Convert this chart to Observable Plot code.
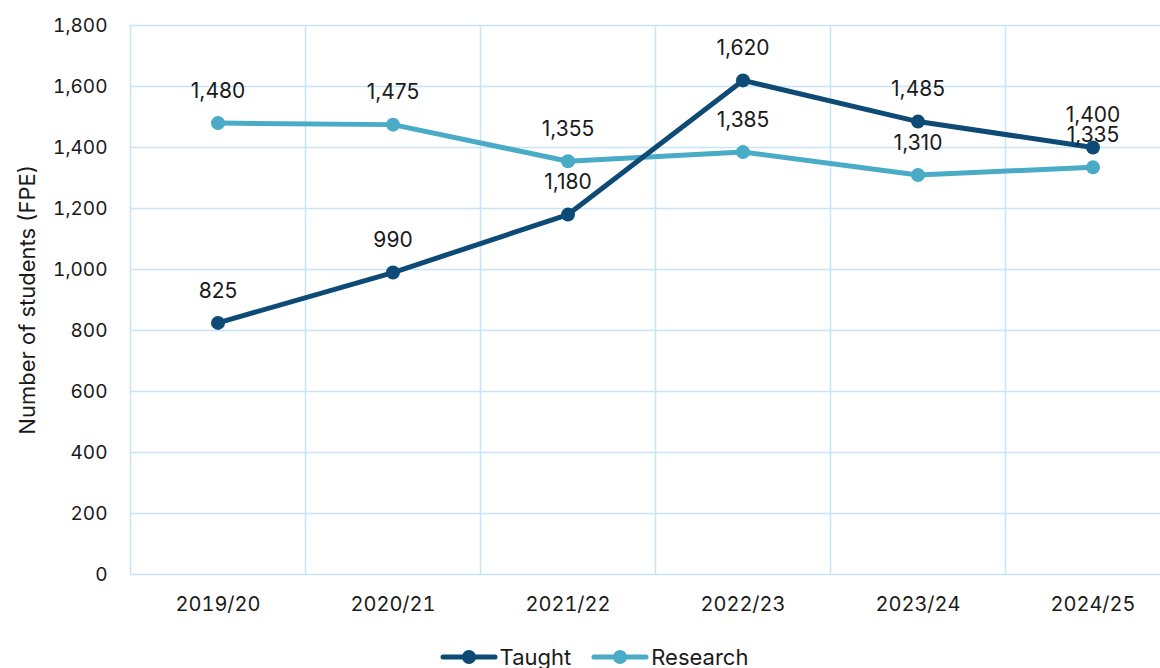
<!DOCTYPE html>
<html>
<head>
<meta charset="utf-8">
<script src="https://cdn.jsdelivr.net/npm/d3@7"></script>
<script src="https://cdn.jsdelivr.net/npm/@observablehq/plot@0.6"></script>
<style>
  html, body { margin: 0; padding: 0; background: #fff; overflow: hidden; }
  body { width: 1160px; height: 668px; font-family: Inter, "Liberation Sans", Arial, sans-serif; }
  #legend { display: flex; justify-content: center; align-items: center; height: 30px; margin-top: 22px; font-size: 22px; color: #1a1a1a; padding-left: 28px; }
  .item { display: flex; align-items: center; margin: 0 10px; }
  .item svg { margin-right: 2px; }
</style>
</head>
<body>
<div id="chart"></div>
<div id="legend"></div>
<script>
const years = ["2019/20", "2020/21", "2021/22", "2022/23", "2023/24", "2024/25"];
const taught = [825, 990, 1180, 1620, 1485, 1400];
const research = [1480, 1475, 1355, 1385, 1310, 1335];
const seriesNames = ["Taught", "Research"];
const seriesColors = ["#0d4a75", "#4aabc7"];
const yTicks = [0, 200, 400, 600, 800, 1000, 1200, 1400, 1600, 1800];
const gridColor = "#c8e4f8";
const fmt = d3.format(",");

const researchData = years.map((y, i) => ({ pos: i + 0.5, year: y, series: "Research", value: research[i] }));
const taughtData = years.map((y, i) => ({ pos: i + 0.5, year: y, series: "Taught", value: taught[i] }));
const allData = [...researchData, ...taughtData];

const chart = Plot.plot({
  width: 1160,
  height: 620,
  marginLeft: 130,
  marginRight: 0,
  marginTop: 25,
  marginBottom: 46,
  style: { fontFamily: "Inter, 'Liberation Sans', Arial, sans-serif", fontSize: "19px", color: "#1a1a1a", background: "#fff" },
  x: { type: "linear", domain: [0, years.length], range: [130, 130 + 175 * years.length], axis: null },
  y: { domain: [0, 1800], axis: null },
  color: { domain: seriesNames, range: seriesColors },
  marks: [
    Plot.gridY(yTicks, { stroke: gridColor, strokeOpacity: 1, strokeWidth: 1.5 }),
    Plot.gridX(d3.range(0, years.length + 1), { stroke: gridColor, strokeOpacity: 1, strokeWidth: 1.5 }),
    Plot.axisY(yTicks, { tickSize: 0, tickPadding: 23, tickFormat: fmt, label: null, fontSize: 19 }),
    Plot.axisX(years.map((y, i) => i + 0.5), { tickSize: 0, tickPadding: 22, tickFormat: d => years[Math.floor(d)], label: null, fontSize: 20 }),
    Plot.text(["Number of students (FPE)"], { frameAnchor: "left", textAnchor: "middle", rotate: -90, dx: -103, fontSize: 22, fill: "#1a1a1a" }),
    Plot.line(researchData, { x: "pos", y: "value", stroke: "series", strokeWidth: 5, strokeLinejoin: "round", strokeLinecap: "round" }),
    Plot.line(taughtData, { x: "pos", y: "value", stroke: "series", strokeWidth: 5, strokeLinejoin: "round", strokeLinecap: "round" }),
    Plot.dot(allData, { x: "pos", y: "value", fill: "series", r: 7 }),
    Plot.text(allData, { x: "pos", y: "value", text: d => fmt(d.value), dy: -32, fontSize: 21, fill: "#1a1a1a" })
  ]
});
document.getElementById("chart").appendChild(chart);

const legend = document.getElementById("legend");
seriesNames.forEach((name, i) => {
  const item = document.createElement("div");
  item.className = "item";
  item.innerHTML = `<svg width="58" height="16"><line x1="3" y1="8" x2="55" y2="8" stroke="${seriesColors[i]}" stroke-width="5" stroke-linecap="round"/><circle cx="29" cy="8" r="7" fill="${seriesColors[i]}"/></svg><span>${name}</span>`;
  legend.appendChild(item);
});
</script>
</body>
</html>
